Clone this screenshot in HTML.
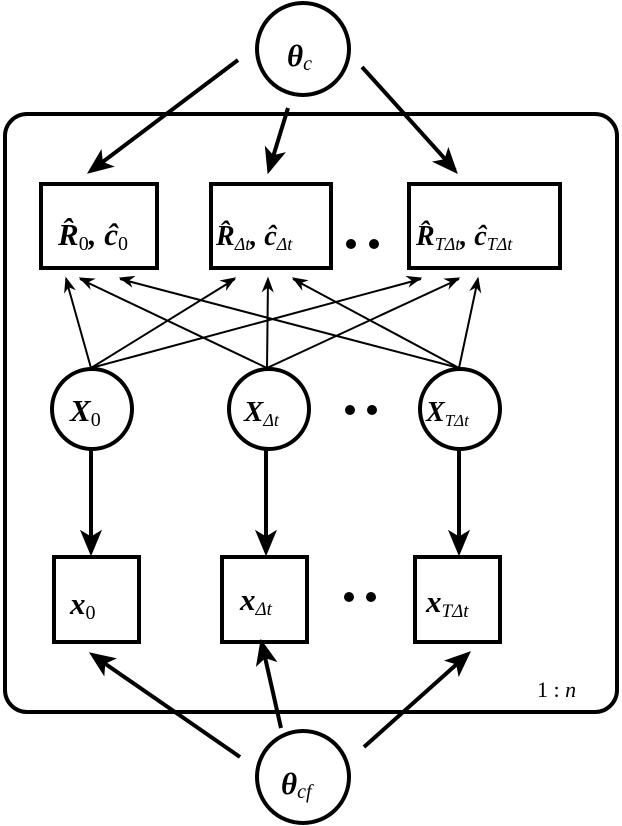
<!DOCTYPE html>
<html><head><meta charset="utf-8"><style>
html,body{margin:0;padding:0;background:#fff;}
svg{display:block;}
</style></head><body>
<svg width="622" height="826" viewBox="0 0 622 826" xmlns="http://www.w3.org/2000/svg" font-family="Liberation Serif, DejaVu Serif, serif">
<g fill="none" stroke="#000">
<rect x="5" y="114" width="612" height="598" rx="22" stroke-width="4"/>
<ellipse cx="303" cy="49" rx="46" ry="46" stroke-width="4"/>
<ellipse cx="303" cy="777" rx="46" ry="46" stroke-width="4"/>
<rect x="41" y="184" width="116" height="84" stroke-width="4"/>
<rect x="211" y="184" width="120" height="84" stroke-width="4"/>
<rect x="409" y="184" width="151" height="84" stroke-width="4"/>
<ellipse cx="92" cy="409" rx="40" ry="40" stroke-width="4"/>
<ellipse cx="269" cy="409" rx="40" ry="40" stroke-width="4"/>
<ellipse cx="460" cy="409" rx="40" ry="40" stroke-width="4"/>
<rect x="54" y="557" width="85" height="85" stroke-width="4"/>
<rect x="222" y="557" width="85" height="85" stroke-width="4"/>
<rect x="415" y="557" width="85" height="85" stroke-width="4"/>
</g>
<g stroke="#000" stroke-width="4" fill="none">
<line x1="238" y1="60" x2="92" y2="170"/>
<line x1="288" y1="108" x2="269" y2="170"/>
<line x1="362" y1="67" x2="455" y2="170"/>
<line x1="91" y1="450" x2="91" y2="552"/>
<line x1="266" y1="450" x2="266" y2="552"/>
<line x1="459" y1="450" x2="459" y2="552"/>
<line x1="240" y1="757" x2="94" y2="656"/>
<line x1="281" y1="728" x2="262" y2="644"/>
<line x1="364" y1="747" x2="467" y2="655"/>
</g>
<g stroke="#000" stroke-width="2" fill="none">
<line x1="91" y1="368" x2="66" y2="279"/>
<line x1="91" y1="368" x2="235" y2="279"/>
<line x1="91" y1="368" x2="421" y2="279"/>
<line x1="267" y1="368" x2="80" y2="279"/>
<line x1="267" y1="368" x2="268" y2="279"/>
<line x1="267" y1="368" x2="459" y2="279"/>
<line x1="459" y1="368" x2="120" y2="279"/>
<line x1="459" y1="368" x2="293" y2="279"/>
<line x1="459" y1="368" x2="478" y2="279"/>
</g>
<g fill="#000" stroke="#000" stroke-width="1">
<path d="M0,0 L-24,-10 L-18,0 L-24,10 Z" transform="translate(88,173) rotate(143)"/>
<path d="M0,0 L-24,-10 L-18,0 L-24,10 Z" transform="translate(268,173) rotate(107)"/>
<path d="M0,0 L-24,-10 L-18,0 L-24,10 Z" transform="translate(457,173) rotate(48)"/>
<path d="M0,0 L-24,-10 L-18,0 L-24,10 Z" transform="translate(91,555) rotate(90)"/>
<path d="M0,0 L-24,-10 L-18,0 L-24,10 Z" transform="translate(266,555) rotate(90)"/>
<path d="M0,0 L-24,-10 L-18,0 L-24,10 Z" transform="translate(459,555) rotate(90)"/>
<path d="M0,0 L-24,-10 L-18,0 L-24,10 Z" transform="translate(90,653) rotate(215)"/>
<path d="M0,0 L-24,-10 L-18,0 L-24,10 Z" transform="translate(261,640) rotate(257)"/>
<path d="M0,0 L-24,-10 L-18,0 L-24,10 Z" transform="translate(470,652) rotate(318)"/>
</g>
<g fill="#000" stroke="#000" stroke-width="1">
<path d="M0,0 L-13,-5 L-9,0 L-13,5 Z" transform="translate(66,278) rotate(254)"/>
<path d="M0,0 L-13,-5 L-9,0 L-13,5 Z" transform="translate(235,278) rotate(328)"/>
<path d="M0,0 L-13,-5 L-9,0 L-13,5 Z" transform="translate(421,278) rotate(345)"/>
<path d="M0,0 L-13,-5 L-9,0 L-13,5 Z" transform="translate(80,278) rotate(205)"/>
<path d="M0,0 L-13,-5 L-9,0 L-13,5 Z" transform="translate(268,278) rotate(271)"/>
<path d="M0,0 L-13,-5 L-9,0 L-13,5 Z" transform="translate(459,278) rotate(335)"/>
<path d="M0,0 L-13,-5 L-9,0 L-13,5 Z" transform="translate(120,278) rotate(195)"/>
<path d="M0,0 L-13,-5 L-9,0 L-13,5 Z" transform="translate(293,278) rotate(211)"/>
<path d="M0,0 L-13,-5 L-9,0 L-13,5 Z" transform="translate(478,278) rotate(281)"/>
</g>
<g fill="#000">
<circle cx="351" cy="244" r="5"/><circle cx="374" cy="244" r="5"/>
<circle cx="350" cy="410" r="5"/><circle cx="372" cy="410" r="5"/>
<circle cx="349" cy="597" r="5"/><circle cx="371" cy="597" r="5"/>
</g>
<g font-size="31" font-weight="bold" font-style="italic" fill="#000">
<text x="287" y="66">θ<tspan font-size="20" font-weight="normal" dy="4">c</tspan></text>
<text x="281" y="794">θ<tspan font-size="20" font-weight="normal" dy="4">cf</tspan></text>
<text x="58" y="245">R̂<tspan font-size="20" font-weight="normal" font-style="normal" dy="5">0</tspan><tspan dy="-5">, ĉ</tspan><tspan font-size="20" font-weight="normal" font-style="normal" dy="5">0</tspan></text>
<text x="216" y="245" font-size="28">R̂<tspan font-size="18" font-weight="normal" dy="5">Δt</tspan><tspan dy="-5">, ĉ</tspan><tspan font-size="18" font-weight="normal" dy="5">Δt</tspan></text>
<text x="416" y="245" font-size="28">R̂<tspan font-size="18" font-weight="normal" dy="5">TΔt</tspan><tspan dy="-5">, ĉ</tspan><tspan font-size="18" font-weight="normal" dy="5">TΔt</tspan></text>
<text x="70" y="421">X<tspan font-size="20" font-weight="normal" font-style="normal" dy="5">0</tspan></text>
<text x="244" y="421" font-size="29">X<tspan font-size="18" font-weight="normal" dy="5">Δt</tspan></text>
<text x="426" y="421" font-size="28">X<tspan font-size="17" font-weight="normal" dy="5">TΔt</tspan></text>
<text x="70" y="614">x<tspan font-size="20" font-weight="normal" font-style="normal" dy="5">0</tspan></text>
<text x="240" y="610">x<tspan font-size="19" font-weight="normal" dy="5">Δt</tspan></text>
<text x="426" y="612">x<tspan font-size="19" font-weight="normal" dy="5">TΔt</tspan></text>
</g>
<text x="537" y="697" font-size="22" fill="#000">1 : <tspan font-style="italic">n</tspan></text>
</svg>
</body></html>
